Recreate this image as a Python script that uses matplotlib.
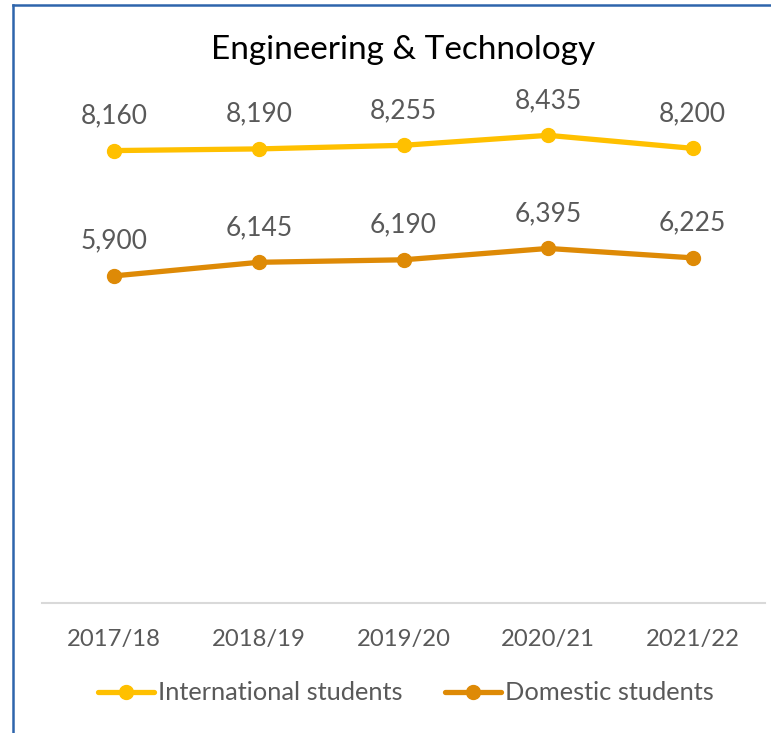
import matplotlib
matplotlib.use("Agg")
import matplotlib.pyplot as plt
from matplotlib.lines import Line2D

years = ["2017/18", "2018/19", "2019/20", "2020/21", "2021/22"]
international = [8160, 8190, 8255, 8435, 8200]
domestic = [5900, 6145, 6190, 6395, 6225]
title = "Engineering & Technology"

plt.rcParams['font.family'] = ['Lato', 'DejaVu Sans']
W, H = 771, 733
fig = plt.figure(figsize=(W/100, H/100), dpi=100)
ax = fig.add_axes([42/W, 1-603/H, (765-42)/W, (603-104)/H])

text_col = "#595959"
c_int = "#FFC000"
c_dom = "#DE8A06"
x = list(range(len(years)))

ax.plot(x, international, color=c_int, lw=3.8, marker='o', ms=10, label="International students", solid_capstyle='round')
ax.plot(x, domestic, color=c_dom, lw=3.8, marker='o', ms=10, label="Domestic students", solid_capstyle='round')

for series in (international, domestic):
    for xi, v in zip(x, series):
        ax.annotate(f"{v:,}", (xi, v), xytext=(0, 25), textcoords='offset points',
                    ha='center', va='center', fontsize=19, color=text_col)

ax.set_xlim(-0.5, len(years)-0.5)
ax.set_ylim(0, 9000)
ax.set_xticks(x)
ax.set_xticklabels(years, fontsize=17.2, color=text_col)
ax.tick_params(axis='x', length=0, pad=19)
ax.set_yticks([])
for s in ['top', 'right', 'left']:
    ax.spines[s].set_visible(False)
ax.spines['bottom'].set_color("#D9D9D9")
ax.spines['bottom'].set_linewidth(1.5)

fig.text(403.5/W, 1-50/H, title, ha='center', va='center', fontsize=24, color='black')

leg = fig.legend(loc='center', bbox_to_anchor=(406/W, 1-693/H), ncol=2, frameon=False,
                 fontsize=18.3, handlelength=2.2, handletextpad=0.15, columnspacing=1.7)
for t in leg.get_texts():
    t.set_color(text_col)

# border
fig.add_artist(Line2D([13/W, 13/W], [0, 1-5/H], color="#2E65AC", lw=1.8))
fig.add_artist(Line2D([13/W, 1], [1-5/H, 1-5/H], color="#2E65AC", lw=1.8))

fig.savefig("out.png", dpi=100)
